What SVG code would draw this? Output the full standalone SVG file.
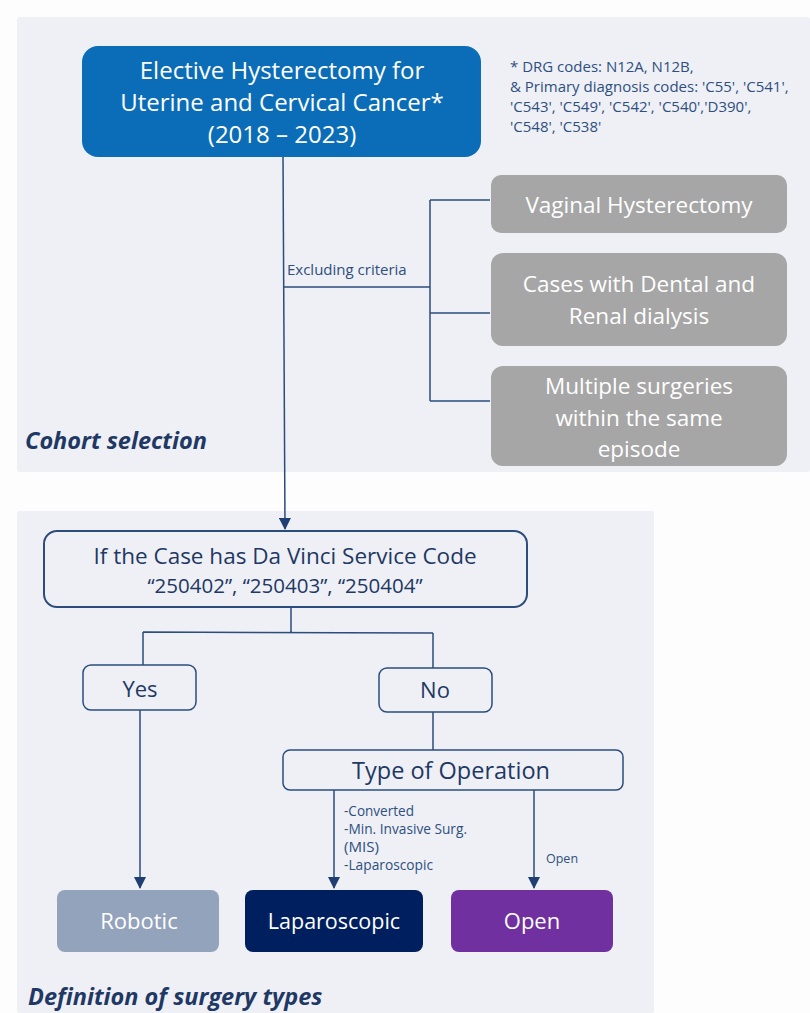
<svg xmlns="http://www.w3.org/2000/svg" width="810" height="1013" viewBox="0 0 810 1013">
<defs>
<marker id="arr" viewBox="0 0 12 12" refX="11" refY="6" markerWidth="12" markerHeight="12" markerUnits="userSpaceOnUse" orient="auto">
<path d="M0,0 L12,6 L0,12 z" fill="#1f3f73"/>
</marker>
<style>
text{font-family:"Open Sans","Noto Sans","Liberation Sans",sans-serif}
.panel{fill:#eef0f5}
.w{fill:#ffffff;text-anchor:middle}
.gray{fill:#a6a6a6}
.outl{fill:#eef0f5;stroke:#2c4c7c;stroke-width:2}
.dk{fill:#1f3864;text-anchor:middle}
.ln{stroke:#2c4c7c;stroke-width:1.5;fill:none}
.note{fill:#2f4f80;font-size:15px}
.lbl{fill:#2f4f80;font-size:15px}
.sm{font-size:14px}
.title{fill:#1f3864;font-size:23.5px;font-weight:bold;font-style:italic}
</style>
</defs>
<rect x="0" y="0" width="810" height="1013" fill="#fdfdfd"/>
<rect class="panel" x="17" y="17" width="793" height="455" rx="3"/>
<rect class="panel" x="17" y="511" width="637" height="502" rx="3"/>

<g id="connectors">
<path class="ln" d="M283,157 L285,529" marker-end="url(#arr)"/>
<path class="ln" d="M283,287 L430,287"/>
<path class="ln" d="M430,200 L430,401"/>
<path class="ln" d="M430,200 L490,200 M430,313 L490,313 M430,401 L490,401"/>
<path class="ln" d="M291,607 L291,632 M143,632 L433,633 M143,632 L143,665 M433,633 L433,668"/>
<path class="ln" d="M140,710 L140,888" marker-end="url(#arr)"/>
<path class="ln" d="M433,712 L433,750"/>
<path class="ln" d="M334,790 L334,888" marker-end="url(#arr)"/>
<path class="ln" d="M534,790 L534,888" marker-end="url(#arr)"/>
<text class="lbl" x="287" y="275">Excluding criteria</text>
<text class="lbl sm" x="344" y="816" textLength="70" lengthAdjust="spacingAndGlyphs">-Converted</text>
<text class="lbl sm" x="344" y="834" textLength="123" lengthAdjust="spacingAndGlyphs">-Min. Invasive Surg.</text>
<text class="lbl sm" x="344" y="852" textLength="35" lengthAdjust="spacingAndGlyphs">(MIS)</text>
<text class="lbl sm" x="344" y="870" textLength="89" lengthAdjust="spacingAndGlyphs">-Laparoscopic</text>
<text class="lbl" x="546" y="863" style="font-size:12.5px">Open</text>
</g>

<g id="start">
<rect x="82" y="46" width="399" height="111" rx="16" fill="#0b6db7"/>
<text class="w" x="282" y="79" font-size="24">Elective Hysterectomy for</text>
<text class="w" x="282" y="111" font-size="24">Uterine and Cervical Cancer*</text>
<text class="w" x="282" y="143" font-size="24">(2018 – 2023)</text>
</g>

<g id="note">
<text class="note" x="510" y="72">* DRG codes: N12A, N12B,</text>
<text class="note" x="510" y="92">&amp; Primary diagnosis codes: 'C55', 'C541',</text>
<text class="note" x="510" y="112">'C543', 'C549', 'C542', 'C540','D390',</text>
<text class="note" x="510" y="132">'C548', 'C538'</text>
</g>

<g id="excl1">
<rect class="gray" x="491" y="175" width="296" height="58" rx="10"/>
<text class="w" x="639" y="213" font-size="22.5">Vaginal Hysterectomy</text>
</g>
<g id="excl2">
<rect class="gray" x="491" y="253" width="296" height="93" rx="12"/>
<text class="w" x="639" y="292" font-size="22.5">Cases with Dental and</text>
<text class="w" x="639" y="324" font-size="22.5">Renal dialysis</text>
</g>
<g id="excl3">
<rect class="gray" x="491" y="366" width="296" height="100" rx="12"/>
<text class="w" x="639" y="394" font-size="22.5">Multiple surgeries</text>
<text class="w" x="639" y="426" font-size="22.5">within the same</text>
<text class="w" x="639" y="457" font-size="22.5">episode</text>
</g>

<text class="title" x="25" y="449">Cohort selection</text>

<g id="davinci">
<rect class="outl" x="44" y="531" width="483" height="76" rx="13"/>
<text class="dk" x="285" y="564" font-size="22.5">If the Case has Da Vinci Service Code</text>
<text class="dk" x="285" y="593" font-size="20.5">“250402”, “250403”, “250404”</text>
</g>
<g id="yes">
<rect class="outl" x="83" y="665" width="113" height="45" rx="8" style="stroke-width:1.5"/>
<text class="dk" x="140" y="697" font-size="22">Yes</text>
</g>
<g id="no">
<rect class="outl" x="379" y="668" width="113" height="44" rx="8" style="stroke-width:1.5"/>
<text class="dk" x="435" y="698" font-size="22">No</text>
</g>
<g id="type">
<rect class="outl" x="283" y="750" width="340" height="40" rx="7" style="stroke-width:1.5"/>
<text class="dk" x="451" y="779" font-size="23.5">Type of Operation</text>
</g>
<g id="robotic">
<rect x="57" y="890" width="162" height="62" rx="8" fill="#94a3bc"/>
<text class="w" x="139" y="929" font-size="22">Robotic</text>
</g>
<g id="lap">
<rect x="245" y="890" width="178" height="62" rx="8" fill="#001f5f"/>
<text class="w" x="334" y="929" font-size="21.5">Laparoscopic</text>
</g>
<g id="open">
<rect x="451" y="890" width="162" height="62" rx="8" fill="#7030a0"/>
<text class="w" x="532" y="929" font-size="22">Open</text>
</g>
<text class="title" x="28" y="1005">Definition of surgery types</text>
</svg>
